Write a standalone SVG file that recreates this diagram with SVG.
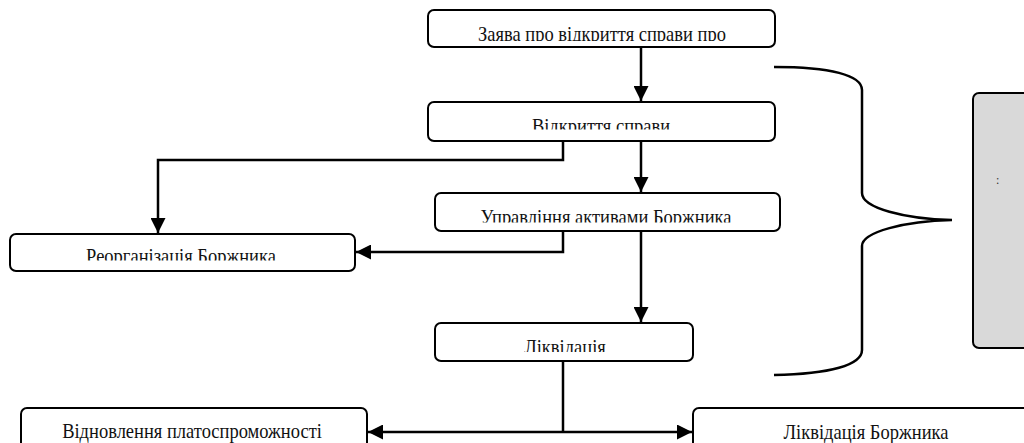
<svg xmlns="http://www.w3.org/2000/svg" width="1024" height="443" viewBox="0 0 1024 443">
<style>
.box{fill:#fff;stroke:#000;stroke-width:2}
.gray{fill:#d9d9d9;stroke:#000;stroke-width:2}
.lbl{font-family:"Liberation Serif","Times New Roman",serif;font-size:18.5px;fill:#111;text-anchor:middle}
.con{fill:none;stroke:#000;stroke-width:2.5}
</style>
<defs>
<marker id="ah" viewBox="0 0 10 10" refX="10" refY="5" markerWidth="6" markerHeight="6" markerUnits="strokeWidth" orient="auto">
<path d="M0,0 L10,5 L0,10 z" fill="#000"/>
</marker>
<clipPath id="c1"><rect x="428" y="10" width="347" height="31"/></clipPath>
<clipPath id="c2"><rect x="428" y="102" width="347" height="27.5"/></clipPath>
<clipPath id="c3"><rect x="435" y="193" width="345" height="29.5"/></clipPath>
<clipPath id="c4"><rect x="10" y="234" width="345" height="26.5"/></clipPath>
<clipPath id="c5"><rect x="435" y="323" width="258" height="29"/></clipPath>
</defs>
<rect width="1024" height="443" fill="#fff"/>
<g id="connectors">
<path class="con" d="M641,47 L641,101" marker-end="url(#ah)"/>
<path class="con" d="M563,141 L563,160 L158,160 L158,233" marker-end="url(#ah)"/>
<path class="con" d="M641,141 L641,192" marker-end="url(#ah)"/>
<path class="con" d="M563,231 L563,252 L356,252" marker-end="url(#ah)"/>
<path class="con" d="M641,231 L641,322" marker-end="url(#ah)"/>
<path class="con" d="M563,361 L563,432"/>
<path class="con" d="M563,432 L368,432" marker-end="url(#ah)"/>
<path class="con" d="M563,432 L692,432" marker-end="url(#ah)"/>
</g>
<g id="brace">
<path class="con" d="M774,67 C830,67 862,75 862,90 L862,193 C862,208 905,219 952,220 C905,221 862,232 862,246 L862,350 C862,365 830,374 774,375"/>
</g>
<g id="n1">
<rect class="box" x="428" y="10" width="347" height="37" rx="6"/>
<g clip-path="url(#c1)"><text class="lbl" transform="translate(602,41) scale(1,1.15)">Заява про відкриття справи про</text></g>
</g>
<g id="n2">
<rect class="box" x="428" y="102" width="347" height="39" rx="6"/>
<g clip-path="url(#c2)"><text class="lbl" transform="translate(601,133) scale(1,1.15)">Відкриття справи</text></g>
</g>
<g id="n3">
<rect class="box" x="435" y="193" width="345" height="38" rx="6"/>
<g clip-path="url(#c3)"><text class="lbl" transform="translate(606,224.3) scale(1,1.15)">Управління активами Боржника</text></g>
</g>
<g id="n4">
<rect class="box" x="10" y="234" width="345" height="37" rx="6"/>
<g clip-path="url(#c4)"><text class="lbl" transform="translate(181,262.5) scale(1,1.15)">Реорганізація Боржника</text></g>
</g>
<g id="n5">
<rect class="box" x="435" y="323" width="258" height="38" rx="6"/>
<g clip-path="url(#c5)"><text class="lbl" transform="translate(565,354) scale(1,1.15)">Ліквідація</text></g>
</g>
<g id="n6">
<rect class="box" x="21" y="408" width="346" height="45" rx="6"/>
<text class="lbl" transform="translate(192,438) scale(1,1.15)">Відновлення платоспроможності</text>
</g>
<g id="n7">
<rect class="box" x="693" y="408" width="346" height="45" rx="6"/>
<text class="lbl" transform="translate(866,438.5) scale(1,1.15)">Ліквідація Боржника</text>
</g>
<g id="n8">
<rect class="gray" x="973" y="93" width="60" height="255" rx="6"/>
<text x="996" y="184" style="font-family:'Liberation Serif',serif;font-size:12px;fill:#333">:</text>
</g>
</svg>
